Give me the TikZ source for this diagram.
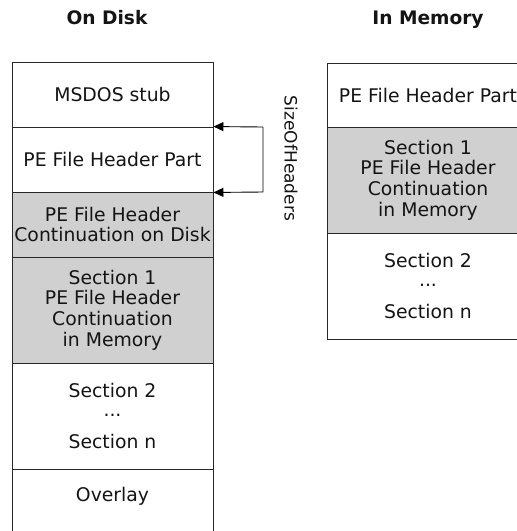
\documentclass[tikz,border=0pt]{standalone}
\usepackage{fontspec}
\setmainfont{DejaVu Sans}
\usetikzlibrary{arrows.meta}
\definecolor{cellgray}{RGB}{208,208,208}
\definecolor{linegray}{RGB}{40,40,40}
\definecolor{txtcol}{RGB}{20,20,20}
\tikzset{
  cell/.style={draw=linegray, line width=0.9pt, minimum width=201pt, inner sep=0pt,
    align=center, text=txtcol, font=\fontsize{18.8}{20.7}\selectfont},
  shaded/.style={fill=cellgray},
  plain/.style={fill=white},
  txt/.style={inner sep=0pt, align=center, text=txtcol, font=\fontsize{18.8}{20.7}\selectfont},
  title/.style={inner sep=0pt, anchor=base, text=txtcol, font=\fontsize{18.6}{20.7}\selectfont\bfseries},
  sidelabel/.style={inner sep=0pt, rotate=-90, text=txtcol, font=\fontsize{17}{20}\selectfont},
  arrowln/.style={draw=black, line width=0.9pt, -{Triangle[length=10pt,width=9pt]}}
}
\begin{document}
\begin{tikzpicture}[x=1pt,y=-1pt]
\useasboundingbox (0,0) rectangle (517,531);
\clip (0,0) rectangle (517,531);
\fill[white] (0,0) rectangle (517,531);

% titles
\node[title] (tdisk) at (107,24) {On Disk};
\node[title] (tmem) at (428,24) {In Memory};

% on disk column
\node[cell, plain, minimum height=65pt] (msdos) at (112.5,94.5) {MSDOS stub};
\node[cell, plain, minimum height=65pt] (pehdr) at (112.5,159.5) {PE File Header Part};
\node[cell, shaded, minimum height=65pt] (cont) at (112.5,224.5) {PE File Header\\Continuation on Disk};
\node[cell, shaded, minimum height=106pt] (sec1) at (112.5,310) {Section 1\\PE File Header\\Continuation\\in Memory};
\node[cell, plain, minimum height=106pt] (sec2) at (112.5,416) {Section 2\\[-1.7pt]...\\[11.6pt]Section n};
\node[cell, plain, minimum height=74pt] (ovl) at (112.5,506) {};
\node[txt] (ovltxt) at (112.5,496) {Overlay};

% in memory column
\node[cell, plain, minimum height=64pt] (rpe) at (428,95) {PE File Header Part};
\node[cell, shaded, minimum height=106pt] (rsec1) at (428,180) {Section 1\\PE File Header\\Continuation\\in Memory};
\node[cell, plain, minimum height=106pt] (rsec2) at (428,286) {Section 2\\[-1.7pt]...\\[11.6pt]Section n};

% SizeOfHeaders bracket
\coordinate (b1) at (263,127);
\coordinate (b2) at (263,192);
\draw[arrowln] (b1) -- (pehdr.north east);
\draw[arrowln] (b1) -- (b2) -- (pehdr.south east);
\node[sidelabel] (soh) at (291,158.5) {SizeOfHeaders};
\end{tikzpicture}
\end{document}
